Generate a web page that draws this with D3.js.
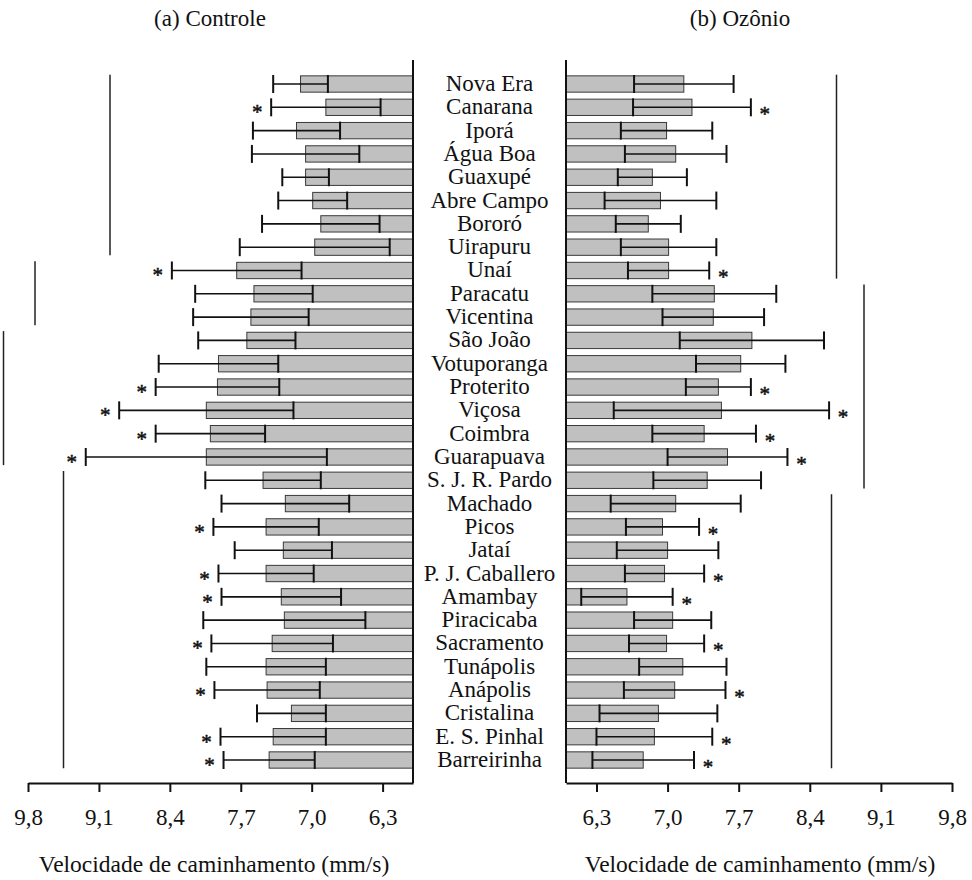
<!DOCTYPE html>
<html lang="pt">
<head>
<meta charset="utf-8">
<title>Velocidade de caminhamento</title>
<script src="https://cdn.jsdelivr.net/npm/d3@7"></script>
<style>
  html, body { margin: 0; padding: 0; background: #fff; }
  svg { display: block; font-family: "Liberation Serif", "Times New Roman", serif; }
</style>
</head>
<body>
<svg id="chart" width="972" height="880"></svg>
<script>
// Populações avaliadas (ordem de cima para baixo)
const populations = [
  "Nova Era", "Canarana", "Iporá", "Água Boa", "Guaxupé", "Abre Campo", "Bororó",
  "Uirapuru", "Unaí", "Paracatu", "Vicentina", "São João", "Votuporanga", "Proterito",
  "Viçosa", "Coimbra", "Guarapuava", "S. J. R. Pardo", "Machado", "Picos", "Jataí",
  "P. J. Caballero", "Amambay", "Piracicaba", "Sacramento", "Tunápolis", "Anápolis",
  "Cristalina", "E. S. Pinhal", "Barreirinha"
];

// (a) Controle: média e desvio-padrão (mm/s)
const controlMean = [
  7.11, 6.86, 7.15, 7.06, 7.06, 6.99, 6.91, 6.97, 7.74, 7.57,
  7.60, 7.64, 7.92, 7.93, 8.04, 8.00, 8.04, 7.48, 7.26, 7.45,
  7.28, 7.45, 7.30, 7.27, 7.39, 7.45, 7.44, 7.20, 7.38, 7.42
];
const controlSD = [
  0.27, 0.54, 0.43, 0.53, 0.23, 0.34, 0.58, 0.74, 0.64, 0.58,
  0.57, 0.48, 0.59, 0.61, 0.86, 0.54, 1.19, 0.57, 0.63, 0.52,
  0.48, 0.47, 0.59, 0.80, 0.60, 0.59, 0.52, 0.34, 0.52, 0.45
];

// (b) Ozônio: média e desvio-padrão (mm/s)
const ozoneMean = [
  7.16, 7.24, 6.99, 7.08, 6.85, 6.93, 6.81, 7.01, 7.01, 7.46,
  7.45, 7.83, 7.72, 7.50, 7.53, 7.36, 7.59, 7.39, 7.08, 6.95,
  7.00, 6.97, 6.60, 7.05, 6.99, 7.15, 7.07, 6.91, 6.87, 6.76
];
const ozoneSD = [
  0.49, 0.58, 0.45, 0.50, 0.34, 0.55, 0.32, 0.47, 0.40, 0.61,
  0.50, 0.71, 0.44, 0.32, 1.06, 0.51, 0.59, 0.53, 0.64, 0.36,
  0.50, 0.39, 0.45, 0.38, 0.37, 0.43, 0.50, 0.58, 0.57, 0.50
];

// Populações com diferença significativa entre tratamentos (*)
const significant = [
  "Canarana", "Unaí", "Proterito", "Viçosa", "Coimbra", "Guarapuava", "Picos",
  "P. J. Caballero", "Amambay", "Sacramento", "Anápolis", "E. S. Pinhal", "Barreirinha"
];

// Agrupamentos (índices da primeira e última população de cada grupo)
const controlGroups = [[0, 7], [8, 10], [11, 16], [17, 29]];
const ozoneGroups = [[0, 8], [9, 17], [18, 29]];

// Eixo x
const tickValues = [6.3, 7.0, 7.7, 8.4, 9.1, 9.8];
const tickLabels = ["6,3", "7,0", "7,7", "8,4", "9,1", "9,8"];
const xDomain = [6.0, 9.8];
const panelTitles = ["(a) Controle", "(b) Ozônio"];
const axisTitle = "Velocidade de caminhamento (mm/s)";

const svg = d3.select("#chart");
const FONT = 23;
const axisY = 783;

const y = d3.scaleBand()
  .domain(populations)
  .range([72.35, 771.65])
  .paddingInner(0.3)
  .paddingOuter(0.15);
const step = y.step();
const rowY = i => y(populations[i]) + y.bandwidth() / 2;

const xLeft = d3.scaleLinear().domain(xDomain).range([413, 28]);
const xRight = d3.scaleLinear().domain(xDomain).range([566, 952]);

function drawPanel(opts) {
  const { x, mean, sd, groups, groupX, side, title, titleX, axisTitleX } = opts;
  const base = x(xDomain[0]);
  const g = svg.append("g");
  const rows = populations.map((name, i) => ({ name, i, mean: mean[i], sd: sd[i] }));

  // Barras
  g.selectAll("rect.bar").data(rows).enter().append("rect")
    .attr("class", "bar")
    .attr("x", d => Math.min(base, x(d.mean)))
    .attr("width", d => Math.abs(x(d.mean) - base))
    .attr("y", d => y(d.name))
    .attr("height", y.bandwidth())
    .attr("fill", "#c0c0c0")
    .attr("stroke", "#3a3a3a")
    .attr("stroke-width", 1);

  // Barras de erro (média ± DP)
  const eb = g.selectAll("g.err").data(rows).enter().append("g").attr("class", "err");
  eb.append("line")
    .attr("x1", d => x(d.mean - d.sd)).attr("x2", d => x(d.mean + d.sd))
    .attr("y1", d => rowY(d.i)).attr("y2", d => rowY(d.i))
    .attr("stroke", "#111").attr("stroke-width", 1.6);
  [-1, 1].forEach(s => {
    eb.append("line")
      .attr("x1", d => x(d.mean + s * d.sd)).attr("x2", d => x(d.mean + s * d.sd))
      .attr("y1", d => rowY(d.i) - 9).attr("y2", d => rowY(d.i) + 9)
      .attr("stroke", "#111").attr("stroke-width", 2);
  });

  // Asteriscos
  g.selectAll("text.sig").data(rows.filter(d => significant.includes(d.name))).enter()
    .append("text")
    .attr("class", "sig")
    .attr("x", d => x(d.mean + d.sd) + side * 14)
    .attr("y", d => rowY(d.i) + (side < 0 ? 12 : 14))
    .attr("text-anchor", "middle")
    .attr("font-size", 21)
    .attr("fill", "#111")
    .attr("stroke", "#111")
    .attr("stroke-width", 0.5)
    .text("*");

  // Linhas de agrupamento
  g.selectAll("line.grp").data(groups).enter().append("line")
    .attr("class", "grp")
    .attr("x1", (d, i) => groupX[i]).attr("x2", (d, i) => groupX[i])
    .attr("y1", d => rowY(d[0]) - 0.4 * step)
    .attr("y2", d => rowY(d[1]) + 0.35 * step)
    .attr("stroke", "#222").attr("stroke-width", 1.5);

  // Eixo x
  const axis = d3.axisBottom(x)
    .tickValues(tickValues)
    .tickFormat(d => tickLabels[tickValues.indexOf(d)])
    .tickSize(9)
    .tickSizeOuter(0);
  const ax = g.append("g").attr("transform", `translate(0,${axisY})`).call(axis);
  ax.select(".domain").attr("stroke", "#111").attr("stroke-width", 2);
  ax.selectAll(".tick line").attr("stroke", "#111").attr("stroke-width", 2);
  ax.selectAll(".tick text")
    .attr("y", 42).attr("dy", null)
    .attr("font-family", "Liberation Serif, Times New Roman, serif")
    .attr("font-size", FONT).attr("fill", "#111");

  // Eixo vertical (base das barras)
  g.append("line")
    .attr("x1", base).attr("x2", base)
    .attr("y1", 60).attr("y2", axisY)
    .attr("stroke", "#111").attr("stroke-width", 2);

  // Títulos
  g.append("text").attr("x", titleX).attr("y", 26)
    .attr("text-anchor", "middle").attr("font-size", FONT).attr("fill", "#111")
    .text(title);
  g.append("text").attr("x", axisTitleX).attr("y", 872)
    .attr("text-anchor", "middle").attr("font-size", 23.5).attr("fill", "#111")
    .text(axisTitle);
}

drawPanel({
  x: xLeft, mean: controlMean, sd: controlSD, groups: controlGroups,
  groupX: [110, 35, 3.5, 63.5], side: -1, title: panelTitles[0], titleX: 210, axisTitleX: 214
});
drawPanel({
  x: xRight, mean: ozoneMean, sd: ozoneSD, groups: ozoneGroups,
  groupX: [836.5, 864, 831.5], side: 1, title: panelTitles[1], titleX: 740, axisTitleX: 760
});

// Nomes das populações, entre os dois painéis
svg.append("g").selectAll("text").data(populations).enter().append("text")
  .attr("x", 489.5)
  .attr("y", (d, i) => rowY(i) + 7)
  .attr("text-anchor", "middle")
  .attr("font-size", FONT)
  .attr("fill", "#111")
  .text(d => d);
</script>
</body>
</html>
